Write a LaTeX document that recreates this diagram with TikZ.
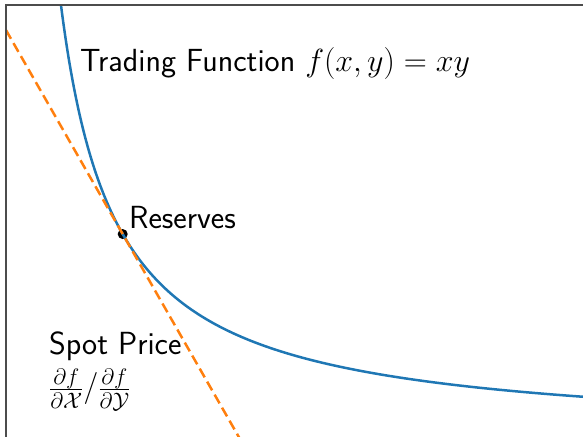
\RequirePackage{fix-cm}
\documentclass[tikz,border=0pt]{standalone}
\usepackage{fontspec}
\definecolor{mplblue}{HTML}{1F77B4}
\definecolor{mplorange}{HTML}{FF7F0E}
\begin{document}
\begin{tikzpicture}[x=1pt,y=1pt,
  lbl/.style={font=\fontsize{32}{37}\selectfont\sffamily, inner sep=0pt, anchor=base west, text=black},
  curve/.style={mplblue, line width=2.5pt},
  tangent/.style={mplorange, line width=2.5pt, dash pattern=on 10pt off 5pt},
  frame/.style={black!70, line width=1.2pt}]
\useasboundingbox (0,0) rectangle (583,436);
\begin{scope}
\clip (0,0) rectangle (583,431);
\coordinate (res) at (122.7,201.94);
\fill[black] (res) circle (5pt);
\draw[curve] plot[domain=50:600, samples=300, smooth] ({6+\x},{-2+238/(\x/100)});
\coordinate (tA) at (6,405.88);
\coordinate (tB) at (239.4,-2);
\draw[tangent] (tA) -- (res) -- (tB);
\end{scope}
\draw[frame] (6,-5) -- (6,431) -- (590,431);
\node[lbl] (title) at (80,364) {Trading Function $f(x,y)=xy$};
\node[lbl] (reslbl) at (129,207) {Reserves};
\node[lbl] (spot) at (49,81) {Spot Price};
\node[lbl] (spotfrac) at (49,39) {$\frac{\partial f}{\partial \mathcal{X}}/\frac{\partial f}{\partial \mathcal{Y}}$};
\end{tikzpicture}
\end{document}
